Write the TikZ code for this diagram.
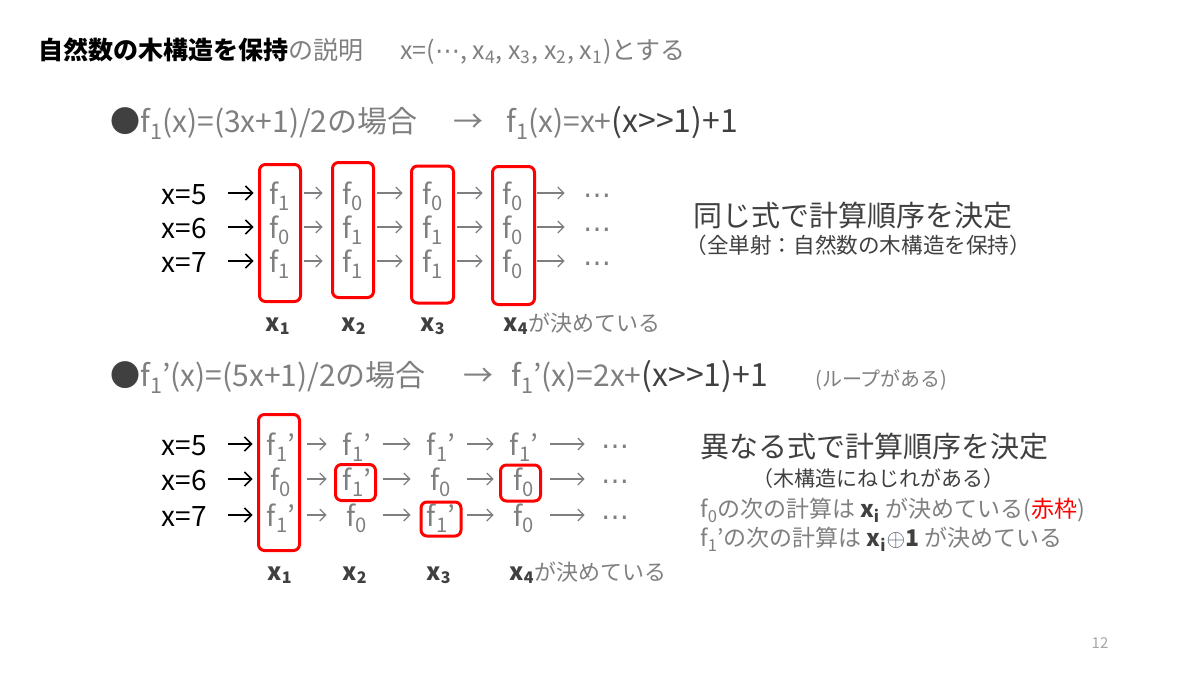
\documentclass[tikz,border=0pt]{standalone}
\usepackage{fontspec}
\setmainfont{Noto Sans CJK JP}
\newfontfamily\symfont{DejaVu Sans}
\usetikzlibrary{arrows.meta}

\definecolor{fgray}{HTML}{7F7F7F}
\definecolor{dgray}{HTML}{404040}
\definecolor{pgray}{HTML}{A6A6A6}
\definecolor{oplusblue}{HTML}{44546A}

\newcommand\lowsub[1]{\raisebox{-0.45ex}{\scalebox{0.72}{#1}}}
\newcommand\fzero{f\lowsub{0}}
\newcommand\fone{f\lowsub{1}}
\newcommand\fonep{f\lowsub{1}'}
\newcommand\xb[1]{{\bfseries x\textsubscript{#1}}}
\newcommand\mdots{{\symfont ⋯}}

\tikzset{
    txt/.style={inner sep=0pt, anchor=base west},
    cell/.style={inner sep=0pt, anchor=base, minimum width=12pt, text height=12pt, text depth=1pt,
        font=\fontsize{14}{16}\selectfont, text=fgray},
    start/.style={cell, anchor=base east, text=black},
    redbox/.style={draw=red, line width=1.5pt, rounded corners=3pt, inner sep=0pt},
    arr/.style={draw=fgray, line width=0.6pt, -{Straight Barb[length=3pt,width=6pt]},
        shorten <=6pt, shorten >=9pt},
    inarr/.style={draw=black, line width=0.8pt, -{Straight Barb[length=3.5pt,width=7pt]},
        shorten <=10.5pt, shorten >=7pt},
    colx/.style={inner sep=0pt, anchor=base, font=\fontsize{12}{14}\selectfont, text=dgray}
}

\begin{document}
\begin{tikzpicture}[x=0.5pt, y=-0.5pt]
        \useasboundingbox (0,0) rectangle (1200,675);

        \node[txt, font=\fontsize{12.5}{14}\selectfont, text=fgray] (title) at (38,59)
            {{\bfseries\color{black}自然数の木構造を保持}の説明};
        \node[txt, font=\fontsize{12.5}{14}\selectfont, text=fgray] (xdef) at (400,59)
            {x=(\mdots, x\textsubscript{4}, x\textsubscript{3}, x\textsubscript{2}, x\textsubscript{1})とする};

        \node[txt, font=\fontsize{15}{17}\selectfont, text=fgray] (headA) at (110,132)
            {{\color{dgray}●}\fone(x)=(3x+1)/2の場合};
        \node[inner sep=0pt, anchor=base, font=\fontsize{15}{17}\selectfont, text=fgray] (headAto) at (468,132) {→};
        \node[txt, font=\fontsize{15}{17}\selectfont, text=fgray] (headAf) at (506,132)
            {\fone(x)=x+{\fontsize{16}{18}\selectfont\color{dgray}(x>{}>1)+1}};

        \foreach \r/\y/\a/\b/\c/\d/\v in {1/204/\fone/\fzero/\fzero/\fzero/5,
                2/238/\fzero/\fone/\fone/\fzero/6, 3/272/\fone/\fone/\fone/\fzero/7} {
            \node[start] (ux\r) at (207,\y) {x=\v};
            \node[cell] (u\r1) at (280,\y) {\a};
            \node[cell] (u\r2) at (353,\y) {\b};
            \node[cell] (u\r3) at (433,\y) {\c};
            \node[cell] (u\r4) at (513,\y) {\d};
            \node[cell] (ud\r) at (597,\y) {\mdots};
            \draw[inarr] (ux\r) -- (u\r1);
            \draw[arr] (u\r1) -- (u\r2);
            \draw[arr] (u\r2) -- (u\r3);
            \draw[arr] (u\r3) -- (u\r4);
            \draw[arr] (u\r4) -- (ud\r);
        }
        \node[redbox, minimum width=20.5pt, minimum height=68.5pt] (ub1) at (280,233) {};
        \node[redbox, minimum width=20.5pt, minimum height=67.5pt] (ub2) at (353,230) {};
        \node[redbox, minimum width=21pt, minimum height=68.5pt] (ub3) at (432.5,234.5) {};
        \node[redbox, minimum width=21pt, minimum height=69pt] (ub4) at (513.5,235.5) {};

        \node[colx] (ulab1) at (278,331) {\xb{1}};
        \node[colx] (ulab2) at (354,331) {\xb{2}};
        \node[colx] (ulab3) at (433,331) {\xb{3}};
        \node[txt, font=\fontsize{11}{13}\selectfont, text=fgray] (ulab4) at (503,331)
            {{\fontsize{12}{14}\selectfont\color{dgray}\xb{4}}が決めている};

        \node[txt, font=\fontsize{14.5}{17}\selectfont, text=dgray] (sameA) at (693,226) {同じ式で計算順序を決定};
        \node[txt, font=\fontsize{10.8}{13}\selectfont, text=dgray] (sameB) at (685,253) {（全単射：自然数の木構造を保持）};

        \node[txt, font=\fontsize{15}{17}\selectfont, text=fgray] (headB) at (110,386)
            {{\color{dgray}●}\fonep(x)=(5x+1)/2の場合};
        \node[inner sep=0pt, anchor=base, font=\fontsize{15}{17}\selectfont, text=fgray] (headBto) at (478,386) {→};
        \node[txt, font=\fontsize{15}{17}\selectfont, text=fgray] (headBf) at (511,386)
            {\fonep(x)=2x+{\fontsize{16}{18}\selectfont\color{dgray}(x>{}>1)+1}};
        \node[txt, font=\fontsize{10}{12}\selectfont, text=fgray] (loop) at (815,386) {(ループがある)};

        \foreach \r/\y/\a/\b/\c/\d/\v in {1/455/\fonep/\fonep/\fonep/\fonep/5,
                2/490/\fzero/\fonep/\fzero/\fzero/6, 3/526/\fonep/\fzero/\fonep/\fzero/7} {
            \node[start] (lx\r) at (207,\y) {x=\v};
            \node[cell, minimum width=14pt] (l\r1) at (281,\y) {\a};
            \node[cell, minimum width=14pt] (l\r2) at (357,\y) {\b};
            \node[cell, minimum width=14pt] (l\r3) at (441,\y) {\c};
            \node[cell, minimum width=14pt] (l\r4) at (524,\y) {\d};
            \node[cell] (ld\r) at (615,\y) {\mdots};
            \draw[inarr] (lx\r) -- (l\r1);
            \draw[arr, shorten >=8pt] (l\r1) -- (l\r2);
            \draw[arr, shorten >=8pt] (l\r2) -- (l\r3);
            \draw[arr, shorten >=8pt] (l\r3) -- (l\r4);
            \draw[arr, shorten >=8pt] (l\r4) -- (ld\r);
        }
        \node[redbox, minimum width=20.5pt, minimum height=68pt] (lb1) at (279,482.5) {};
        \node[redbox, minimum width=20pt, minimum height=18pt] (lb2) at (355.5,482.5) {};
        \node[redbox, minimum width=20pt, minimum height=17pt] (lb3) at (441,519) {};
        \node[redbox, minimum width=20pt, minimum height=18pt] (lb4) at (520.5,483) {};

        \node[colx] (llab1) at (280,580) {\xb{1}};
        \node[colx] (llab2) at (355,580) {\xb{2}};
        \node[colx] (llab3) at (439,580) {\xb{3}};
        \node[txt, font=\fontsize{11}{13}\selectfont, text=fgray] (llab4) at (509,580)
            {{\fontsize{12}{14}\selectfont\color{dgray}\xb{4}}が決めている};

        \node[txt, font=\fontsize{14.5}{17}\selectfont, text=dgray] (diffA) at (700,457) {異なる式で計算順序を決定};
        \node[txt, font=\fontsize{10.5}{13}\selectfont, text=dgray] (diffB) at (752,486) {（木構造にねじれがある）};
        \node[txt, font=\fontsize{11.5}{14}\selectfont, text=fgray] (ruleA) at (700,517)
            {\fzero の次の計算は {\color{dgray}\xb{i}} が決めている({\color{red}赤枠})};
        \node[txt, font=\fontsize{11.5}{14}\selectfont, text=fgray] (ruleB) at (700,546)
            {\fonep の次の計算は {\color{dgray}\xb{i}{\color{oplusblue}$\oplus$}\textbf{1}} が決めている};

        \node[inner sep=0pt, anchor=base, font=\fontsize{7.5}{9}\selectfont, text=pgray] (pagenum) at (1100,648) {12};
\end{tikzpicture}
\end{document}
